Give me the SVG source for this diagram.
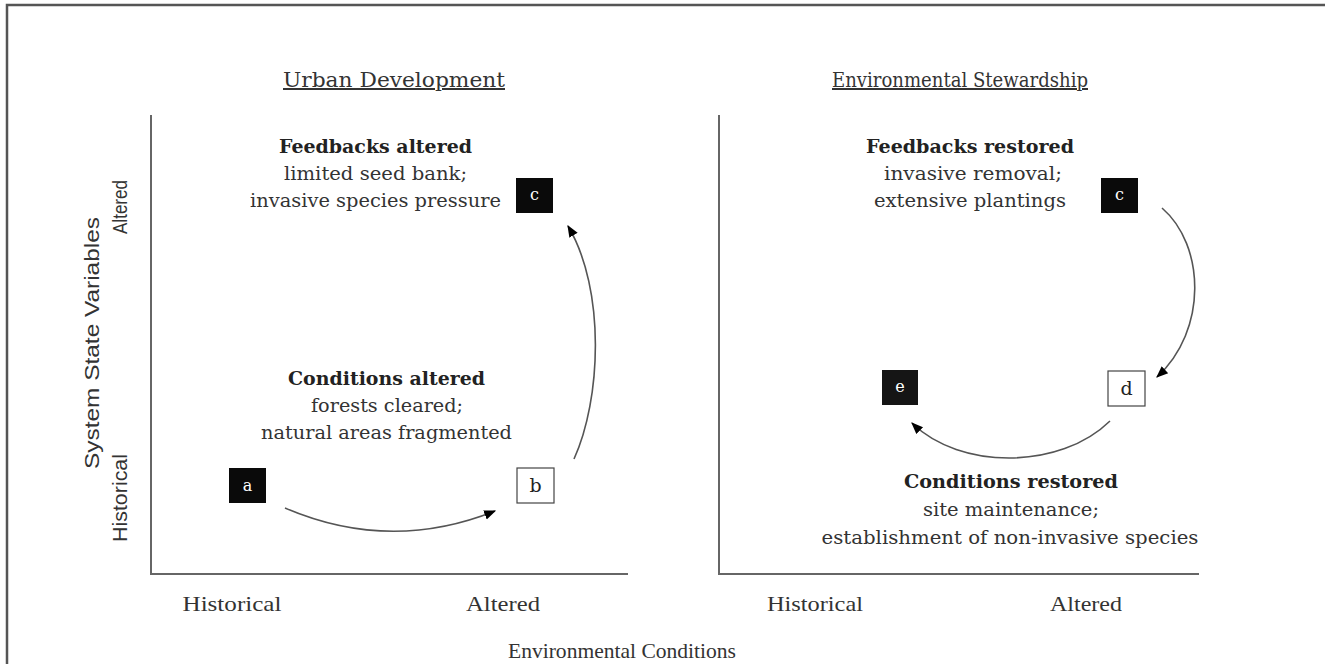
<svg xmlns="http://www.w3.org/2000/svg" width="1325" height="664" viewBox="0 0 1325 664">
<style>
.frame{stroke:#555;stroke-width:2.5;fill:none}
.axis{stroke:#666;stroke-width:2;fill:none}
.title{font-family:"DejaVu Serif","Liberation Serif",serif;font-size:20px;fill:#333;text-anchor:middle;text-decoration:underline}
.head{font-family:"DejaVu Serif","Liberation Serif",serif;font-size:19px;font-weight:bold;fill:#222;text-anchor:middle}
.body{font-family:"DejaVu Serif","Liberation Serif",serif;font-size:19px;fill:#333;text-anchor:middle}
.ax{font-family:"Liberation Serif",serif;font-size:22px;fill:#333;text-anchor:middle}
.axs{font-family:"Liberation Sans",sans-serif;font-size:21px;fill:#333;text-anchor:middle}
.bk{fill:#0a0a0a}
.wt{fill:#fff;stroke:#444;stroke-width:1.2}
.lw{font-family:"DejaVu Serif","Liberation Serif",serif;font-size:16px;fill:#fff;text-anchor:middle}
.lb{font-family:"DejaVu Serif","Liberation Serif",serif;font-size:19px;fill:#222;text-anchor:middle}
.arc{stroke:#555;stroke-width:1.6;fill:none;marker-end:url(#ah)}
</style>
<defs>
<marker id="ah" viewBox="0 0 10 10" refX="9" refY="5" markerWidth="12" markerHeight="12" markerUnits="userSpaceOnUse" orient="auto">
<path d="M0,1 L10,5 L0,9 z" fill="#000"/>
</marker>
</defs>
<rect width="1325" height="664" fill="#fff"/>
<path class="frame" d="M7,664 V5 H1325"/>

<g id="axes">
<path class="axis" d="M151,115 V574 H628"/>
<path class="axis" d="M719,115 V574 H1199"/>
<text class="title" x="394" y="87" textLength="222" lengthAdjust="spacingAndGlyphs">Urban Development</text>
<text class="title" x="960" y="87" textLength="256" lengthAdjust="spacingAndGlyphs">Environmental Stewardship</text>
<text class="axs" transform="translate(99,343) rotate(-90)" textLength="252" lengthAdjust="spacingAndGlyphs">System State Variables</text>
<text class="axs" transform="translate(127,207) rotate(-90)" textLength="54" lengthAdjust="spacingAndGlyphs">Altered</text>
<text class="axs" transform="translate(127,498) rotate(-90)" textLength="88" lengthAdjust="spacingAndGlyphs">Historical</text>
<text class="ax" x="232" y="611" textLength="99" lengthAdjust="spacingAndGlyphs">Historical</text>
<text class="ax" x="503" y="611" textLength="74" lengthAdjust="spacingAndGlyphs">Altered</text>
<text class="ax" x="815" y="611" textLength="96" lengthAdjust="spacingAndGlyphs">Historical</text>
<text class="ax" x="1086" y="611" textLength="72" lengthAdjust="spacingAndGlyphs">Altered</text>
<text class="ax" x="622" y="658" textLength="228" lengthAdjust="spacingAndGlyphs">Environmental Conditions</text>
</g>

<g id="label-feedbacks-altered">
<text class="head" x="375.5" y="153" textLength="193" lengthAdjust="spacingAndGlyphs">Feedbacks altered</text>
<text class="body" x="375.5" y="180" textLength="183" lengthAdjust="spacingAndGlyphs">limited seed bank;</text>
<text class="body" x="375.5" y="207" textLength="251" lengthAdjust="spacingAndGlyphs">invasive species pressure</text>
</g>
<g id="label-conditions-altered">
<text class="head" x="386.5" y="385" textLength="197" lengthAdjust="spacingAndGlyphs">Conditions altered</text>
<text class="body" x="387" y="412" textLength="152" lengthAdjust="spacingAndGlyphs">forests cleared;</text>
<text class="body" x="386.5" y="439" textLength="251" lengthAdjust="spacingAndGlyphs">natural areas fragmented</text>
</g>
<g id="label-feedbacks-restored">
<text class="head" x="970" y="153" textLength="208" lengthAdjust="spacingAndGlyphs">Feedbacks restored</text>
<text class="body" x="973" y="180" textLength="178" lengthAdjust="spacingAndGlyphs">invasive removal;</text>
<text class="body" x="970" y="207" textLength="192" lengthAdjust="spacingAndGlyphs">extensive plantings</text>
</g>
<g id="label-conditions-restored">
<text class="head" x="1011" y="488" textLength="214" lengthAdjust="spacingAndGlyphs">Conditions restored</text>
<text class="body" x="1011" y="516" textLength="176" lengthAdjust="spacingAndGlyphs">site maintenance;</text>
<text class="body" x="1010" y="544" textLength="377" lengthAdjust="spacingAndGlyphs">establishment of non-invasive species</text>
</g>

<g id="node-a"><rect class="bk" x="229" y="468" width="37" height="35"/><text class="lw" x="247.5" y="491">a</text></g>
<g id="node-b"><rect class="wt" x="517" y="468" width="37" height="35"/><text class="lb" x="535.5" y="492">b</text></g>
<g id="node-c-left"><rect class="bk" x="516" y="178" width="37" height="35"/><text class="lw" x="534.5" y="200">c</text></g>
<g id="node-c-right"><rect class="bk" x="1101" y="178" width="37" height="35"/><text class="lw" x="1119.5" y="200">c</text></g>
<g id="node-d"><rect class="wt" x="1108" y="371" width="37" height="35"/><text class="lb" x="1126.5" y="395">d</text></g>
<g id="node-e"><rect fill="#151515" x="882" y="370" width="36" height="35"/><text class="lw" x="900" y="392" fill="#ddd">e</text></g>

<g id="connectors">
<path class="arc" d="M285,508 Q390,553 495,511"/>
<path class="arc" d="M574,459 C601,400 606,290 568,226"/>
<path class="arc" d="M1162,208 C1205,245 1208,330 1157,377"/>
<path class="arc" d="M1110,421 C1060,470 960,470 912,423"/>
</g>
</svg>
